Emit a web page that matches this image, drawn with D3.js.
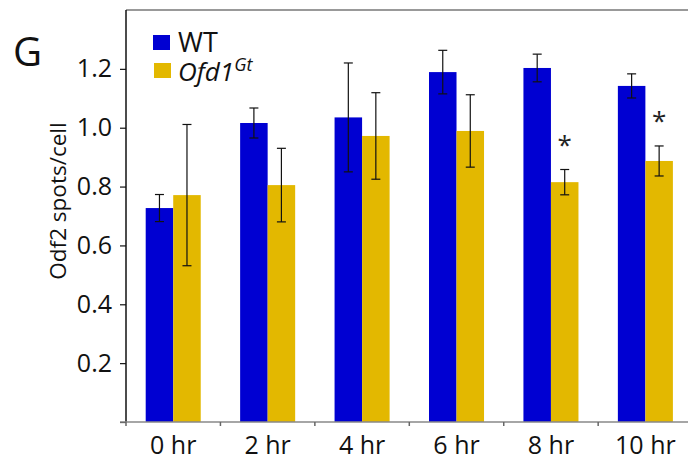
<html>
<meta charset="utf-8">
<head>
	<title>G</title>
	<script src="https://d3js.org/d3.v7.min.js"></script>
</head>
<body style="margin:0">
<svg id="chart" height="463" width="688"></svg>

<script>
	var hours = ["0 hr", "2 hr", "4 hr", "6 hr", "8 hr", "10 hr"];
	var series = ["WT", "Ofd1"];
	var wtMean = [0.727, 1.016, 1.035, 1.189, 1.203, 1.142];
	var wtErr = [0.046, 0.051, 0.185, 0.074, 0.047, 0.041];
	var gtMean = [0.771, 0.805, 0.972, 0.989, 0.815, 0.887];
	var gtErr = [0.24, 0.125, 0.147, 0.123, 0.043, 0.051];
	var stars = [false, false, false, false, true, true];
	var yTicks = [0.2, 0.4, 0.6, 0.8, 1.0, 1.2];

	var colors = {WT: "#0000d2", Ofd1: "#e3b800"};
	var font = "'Open Sans', sans-serif";

	var svg = d3.select("#chart");
	var plotLeft = 126, plotTop = 10, plotBottom = 422, plotRight = 692.6;

	var x = d3.scaleBand().domain(hours).range([plotLeft, plotRight]).paddingInner(0).paddingOuter(0);
	var xs = d3.scaleBand().domain(series).range([0, x.bandwidth()]).paddingInner(0).paddingOuter(0.716);
	var y = d3.scaleLinear().domain([0, 1.4]).range([plotBottom, plotTop]);

	var rows = hours.map(function (h, i) {
		return [
			{hour: h, key: "WT", mean: wtMean[i], err: wtErr[i]},
			{hour: h, key: "Ofd1", mean: gtMean[i], err: gtErr[i]}
		];
	});

	// top border
	svg.append("line")
		.attr("x1", plotLeft).attr("x2", 688).attr("y1", plotTop).attr("y2", plotTop)
		.attr("stroke", "#777").attr("stroke-width", 1.5);

	var groups = svg.selectAll("g.hour").data(rows).enter()
		.append("g").attr("class", "hour")
		.attr("transform", function (d) { return "translate(" + x(d[0].hour) + ",0)"; });

	groups.selectAll("rect").data(function (d) { return d; }).enter()
		.append("rect")
		.attr("x", function (d) { return xs(d.key); })
		.attr("width", xs.bandwidth())
		.attr("y", function (d) { return y(d.mean); })
		.attr("height", function (d) { return y(0) - y(d.mean); })
		.attr("fill", function (d) { return colors[d.key]; });

	var eb = groups.selectAll("g.err").data(function (d) { return d; }).enter()
		.append("g").attr("class", "err")
		.attr("stroke", "#111").attr("stroke-width", 1.2);
	eb.append("line")
		.attr("x1", function (d) { return xs(d.key) + xs.bandwidth() / 2; })
		.attr("x2", function (d) { return xs(d.key) + xs.bandwidth() / 2; })
		.attr("y1", function (d) { return y(d.mean + d.err); })
		.attr("y2", function (d) { return y(d.mean - d.err); });
	[1, -1].forEach(function (s) {
		eb.append("line")
			.attr("x1", function (d) { return xs(d.key) + xs.bandwidth() / 2 - 4.5; })
			.attr("x2", function (d) { return xs(d.key) + xs.bandwidth() / 2 + 4.5; })
			.attr("y1", function (d) { return y(d.mean + s * d.err); })
			.attr("y2", function (d) { return y(d.mean + s * d.err); });
	});

	// significance stars
	groups.filter(function (d, i) { return stars[i]; })
		.append("text")
		.attr("x", xs("Ofd1") + xs.bandwidth() / 2)
		.attr("y", function (d) { return y(d[1].mean + d[1].err) - 16; })
		.attr("text-anchor", "middle")
		.attr("font-family", font).attr("font-size", 26)
		.attr("fill", "#222")
		.text("*");

	// axes
	var yAxis = svg.append("g")
		.attr("transform", "translate(" + plotLeft + ",0)")
		.call(d3.axisLeft(y).tickValues([0].concat(yTicks)).tickSize(6).tickPadding(8)
			.tickFormat(function (d) { return d === 0 ? "" : d3.format(".1f")(d); }));
	yAxis.select(".domain").attr("d", "M0," + plotTop + "V" + plotBottom).attr("stroke", "#111").attr("stroke-width", 1.5);
	yAxis.selectAll(".tick line").attr("stroke", "#111").attr("stroke-width", 1.2);
	yAxis.selectAll("text").attr("font-family", font).attr("font-size", 25).attr("fill", "#111");

	var xAxis = svg.append("g")
		.attr("transform", "translate(0," + plotBottom + ")");
	xAxis.append("line")
		.attr("x1", plotLeft - 6).attr("x2", 688).attr("y1", 0).attr("y2", 0)
		.attr("stroke", "#888").attr("stroke-width", 1.5);
	var bounds = hours.map(function (h) { return x(h); });
	xAxis.selectAll("line.tk").data(bounds).enter()
		.append("line").attr("class", "tk")
		.attr("x1", function (d) { return d; }).attr("x2", function (d) { return d; })
		.attr("y1", 0).attr("y2", 4)
		.attr("stroke", "#666").attr("stroke-width", 1.5);
	xAxis.selectAll("text").data(hours).enter()
		.append("text")
		.attr("x", function (d) { return x(d) + x.bandwidth() / 2; })
		.attr("y", 32)
		.attr("text-anchor", "middle")
		.attr("font-family", font).attr("font-size", 25).attr("fill", "#111")
		.text(function (d) { return d; });

	// y title
	svg.append("text")
		.attr("transform", "translate(66,201) rotate(-90)")
		.attr("text-anchor", "middle")
		.attr("font-family", font).attr("font-size", 22.5).attr("fill", "#111")
		.text("Odf2 spots/cell");

	// panel letter
	svg.append("text")
		.attr("x", 13).attr("y", 66)
		.attr("font-family", font).attr("font-size", 40).attr("fill", "#111")
		.text("G");

	// legend
	var legend = svg.append("g");
	legend.append("rect").attr("x", 153).attr("y", 35).attr("width", 17).attr("height", 15).attr("fill", colors.WT);
	legend.append("rect").attr("x", 154).attr("y", 63).attr("width", 17).attr("height", 15).attr("fill", colors.Ofd1);
	legend.append("text")
		.attr("x", 178).attr("y", 52)
		.attr("font-family", font).attr("font-size", 27).attr("fill", "#111")
		.text("WT");
	var lt = legend.append("text")
		.attr("x", 178).attr("y", 81)
		.attr("font-family", font).attr("font-size", 26).attr("fill", "#111");
	lt.append("tspan").attr("font-style", "italic").text("Ofd1");
	lt.append("tspan").attr("font-style", "italic").attr("font-size", 18).attr("dy", -10).text("Gt");
</script>
</body>
</html>
